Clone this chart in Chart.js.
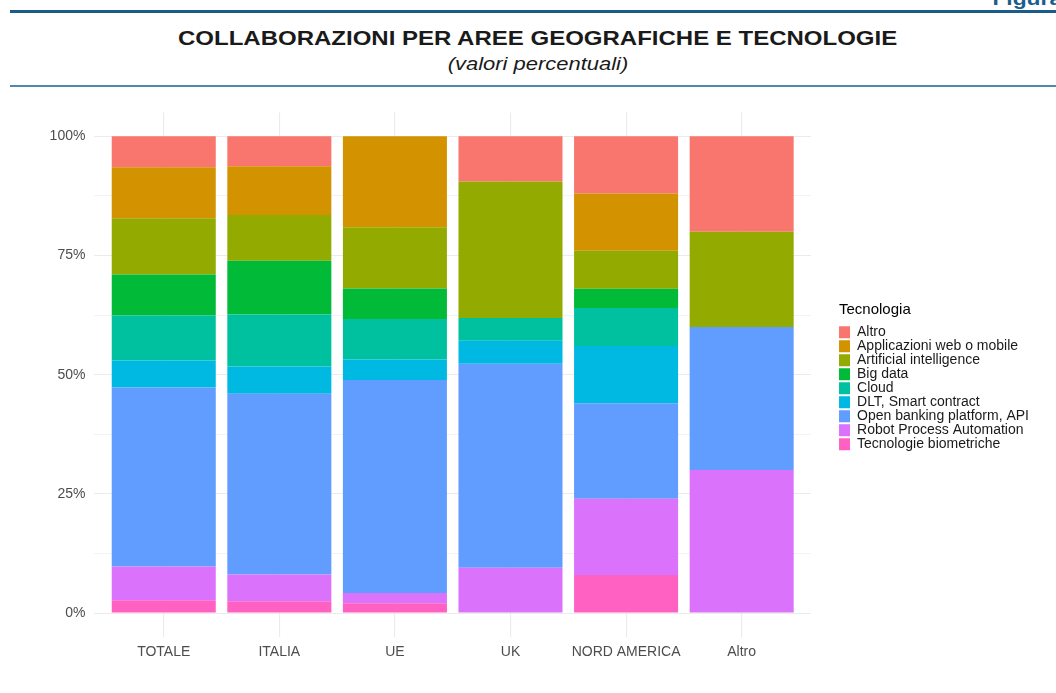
<!DOCTYPE html>
<html>
<head>
<meta charset="utf-8">
<script src="https://cdn.jsdelivr.net/npm/chart.js@4.4.1/dist/chart.umd.min.js"></script>
<style>
  body { margin: 0; background: #fff; font-family: "Liberation Sans", Arial, sans-serif; }
  #page { position: relative; width: 1056px; height: 693px; overflow: hidden; }
  .rule { position: absolute; left: 10px; right: 0; }
  #figura { position: absolute; right: -6px; top: -11px; font-size: 19px; line-height: 19px; font-weight: bold;
            color: #1b5e8c; transform: scaleX(1.2); transform-origin: right center; }
  #title { position: absolute; left: 0; width: 1076px; top: 27px; text-align: center; font-size: 20px; font-weight: bold;
           color: #1a1a1a; transform: scaleX(1.2); transform-origin: 540px 0; }
  #subtitle { position: absolute; left: 0; width: 1076px; top: 54px; text-align: center; font-size: 18px; font-style: italic;
              color: #1a1a1a; transform: scaleX(1.22); transform-origin: 538px 0; }
  #wrap { position: absolute; left: 0; top: 95px; width: 1056px; height: 598px; }
</style>
</head>
<body>
<div id="page">
  <div id="figura">Figura</div>
  <div class="rule" style="top:10px;height:3px;background:#1a5c8a"></div>
  <div id="title">COLLABORAZIONI PER AREE GEOGRAFICHE E TECNOLOGIE</div>
  <div id="subtitle">(valori percentuali)</div>
  <div class="rule" style="top:85px;height:2px;background:#4f8aad"></div>
  <div id="wrap"><canvas id="chart"></canvas></div>
</div>
<script>
// aree geografiche (asse x)
const aree = ['TOTALE', 'ITALIA', 'UE', 'UK', 'NORD AMERICA', 'Altro'];
const yTicks = [0, 25, 50, 75, 100];
const yMinor = [12.5, 37.5, 62.5, 87.5];

// quote percentuali per tecnologia, un valore per area
const altro       = [6.5, 6.3, 0, 9.5, 12, 20];
const appWeb      = [10.7, 10.2, 19.1, 0, 12, 0];
const ai          = [11.8, 9.6, 12.8, 28.6, 8, 20];
const bigData     = [8.6, 11.3, 6.4, 0, 4, 0];
const cloud       = [9.4, 10.9, 8.5, 4.8, 8, 0];
const dlt         = [5.7, 5.7, 4.3, 4.8, 12, 0];
const openBanking = [37.5, 37.9, 44.7, 42.8, 20, 30];
const rpa         = [7.1, 5.6, 2.1, 9.5, 16, 30];
const biometria   = [2.7, 2.5, 2.1, 0, 8, 0];

// dal basso verso l'alto, come nello stack
const serie = [
  ['Tecnologie biometriche', biometria, '#FF61C3'],
  ['Robot Process Automation', rpa, '#DB72FB'],
  ['Open banking platform, API', openBanking, '#619CFF'],
  ['DLT, Smart contract', dlt, '#00B9E3'],
  ['Cloud', cloud, '#00C19F'],
  ['Big data', bigData, '#00BA38'],
  ['Artificial intelligence', ai, '#93AA00'],
  ['Applicazioni web o mobile', appWeb, '#D39200'],
  ['Altro', altro, '#F8766D']
];

const datasets = serie.map(([label, vals, col]) => ({
  label: label,
  data: vals.map((v, i) => ({ x: i, y: v })),
  backgroundColor: col,
  borderWidth: 0,
  barPercentage: 0.9,
  categoryPercentage: 1
}));

const grid = '#ebebeb';

// sposta la legenda un po' a destra dell'area del grafico
const legendGap = {
  id: 'legendGap',
  afterLayout(chart) {
    const lg = chart.legend;
    const dx = chart.chartArea.right + 28 - lg.left;
    lg.left += dx;
    lg.right += dx;
  }
};

new Chart(document.getElementById('chart'), {
  type: 'bar',
  data: { datasets: datasets },
  plugins: [legendGap],
  options: {
    responsive: true,
    maintainAspectRatio: false,
    animation: false,
    layout: { padding: { top: 14, left: 0, bottom: 0, right: 45 } },
    plugins: {
      tooltip: { enabled: false },
      legend: {
        position: 'right',
        align: 'center',
        fullSize: false,
        reverse: true,
        title: {
          display: true,
          text: 'Tecnologia',
          position: 'start',
          color: '#000',
          font: { size: 15, family: 'Liberation Sans' },
          padding: { top: 4, bottom: 5 }
        },
        labels: {
          boxWidth: 11,
          boxHeight: 12,
          padding: 0,
          color: '#1a1a1a',
          font: { size: 14, family: 'Liberation Sans' }
        }
      }
    },
    scales: {
      x: {
        type: 'linear',
        stacked: true,
        offset: false,
        min: -0.6,
        max: 5.6,
        afterBuildTicks: s => { s.ticks = aree.map((a, i) => ({ value: i })); },
        afterFit: s => { s.height = 56; },
        ticks: {
          padding: 7,
          color: '#4d4d4d',
          font: { size: 14, family: 'Liberation Sans' },
          callback: v => aree[v]
        },
        grid: { color: grid, lineWidth: 1.1, drawTicks: false, offset: false },
        border: { display: false }
      },
      y: {
        stacked: true,
        min: -5,
        max: 105,
        afterBuildTicks: s => {
          s.ticks = yTicks.concat(yMinor).sort((a, b) => a - b).map(v => ({ value: v }));
        },
        afterFit: s => { s.width = 94.4; },
        ticks: {
          padding: 9,
          color: '#4d4d4d',
          font: { size: 14, family: 'Liberation Sans' },
          callback: v => yTicks.includes(v) ? v + '%' : ''
        },
        grid: {
          color: grid,
          drawTicks: false,
          lineWidth: c => yTicks.includes(c.tick.value) ? 1.1 : 0.6
        },
        border: { display: false }
      }
    }
  }
});
</script>
</body>
</html>
